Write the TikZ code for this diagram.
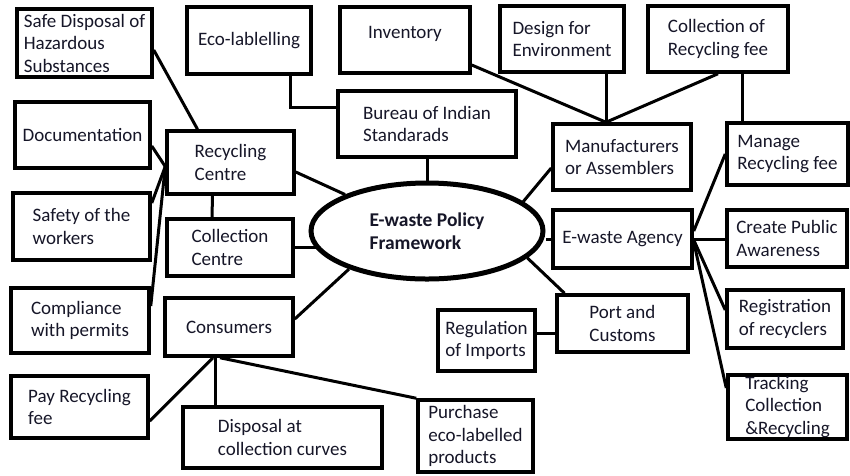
\documentclass[tikz,border=0pt]{standalone}
\usepackage{fontspec}
\setmainfont{Carlito}
\usetikzlibrary{shapes.geometric}
\definecolor{txt}{RGB}{22,22,40}
\begin{document}
\begin{tikzpicture}[x=1pt,y=-1pt,
  box/.style={draw, line width=3.5pt, inner sep=0pt, align=left,
    font=\fontsize{19}{22.5}\selectfont, text=txt},
  conn/.style={line width=3pt}]
\useasboundingbox[fill=white] (0,0) rectangle (850,475);
% boxes
\node[box, minimum width=135, minimum height=68] (safe) at (84.5,43) {Safe Disposal of\\Hazardous\\Substances};
\node[box, minimum width=124, minimum height=67] (eco) at (249,40.5) {Eco-lablelling};
\node[box, minimum width=130, minimum height=66] (inv) at (405,40) {\raisebox{6pt}[13pt][4pt]{Inventory}};
\node[box, minimum width=124, minimum height=66] (des) at (562,39) {Design for\\Environment};
\node[box, minimum width=140, minimum height=66] (cf) at (718,39) {Collection of\\Recycling fee};
\node[box, minimum width=178, minimum height=66] (bur) at (427,124) {Bureau of Indian\\Standarads};
\node[box, minimum width=135, minimum height=66] (doc) at (82.5,135) {Documentation};
\node[box, minimum width=127, minimum height=63] (rc) at (230.5,162.5) {Recycling\\Centre};
\node[box, minimum width=138, minimum height=66] (man) at (622,157) {Manufacturers\\or Assemblers};
\node[box, minimum width=121, minimum height=62] (mg) at (787.5,154) {Manage\\Recycling fee};
\node[box, minimum width=137, minimum height=67] (saf) at (81.5,226.5) {Safety of the\\workers};
\node[box, minimum width=126, minimum height=57] (cc) at (230,247.5) {Collection\\Centre};
\node[box, minimum width=139, minimum height=58] (ag) at (622.5,239) {E-waste Agency};
\node[box, minimum width=120, minimum height=57] (cp) at (787,238.5) {Create Public\\Awareness};
\node[box, minimum width=138, minimum height=65] (comp) at (80,320.5) {Compliance\\with permits};
\node[box, minimum width=128, minimum height=58] (con) at (229,327) {Consumers};
\node[box, minimum width=131, minimum height=57] (port) at (622.5,323.5) {Port and\\Customs};
\node[box, minimum width=97, minimum height=61] (reg) at (486.5,340.5) {Regulation\\of Imports};
\node[box, minimum width=116, minimum height=58] (rgr) at (785,319) {Registration\\of recyclers};
\node[box, minimum width=137, minimum height=62] (pay) at (79.5,407) {Pay Recycling\\fee};
\node[box, minimum width=199, minimum height=61] (dis) at (282.5,437.5) {Disposal at\\collection curves};
\node[box, minimum width=115, minimum height=72] (pur) at (475.5,436) {Purchase\\eco-labelled\\products};
\node[box, minimum width=119, minimum height=64] (trk) at (787.5,407) {Tracking\\Collection\\\&Recycling};
\node[ellipse, draw, line width=5pt, minimum width=232, minimum height=96, inner sep=0pt,
  align=left, text=txt, font=\fontsize{19.5}{22.5}\selectfont\bfseries] (ell) at (427,231)
  {E-waste Policy\\Framework};
% connectors
\coordinate (mtop) at ([xshift=-16pt]man.north);
\coordinate (rcw) at ([yshift=-4pt]rc.west);
\draw[conn] ([xshift=41pt]eco.south) |- ([yshift=17pt]bur.west);
\draw[conn] ([yshift=-7pt]safe.east) -- ([xshift=-33pt]rc.north);
\draw[conn] ([yshift=-11pt]doc.east) -- (rcw);
\draw[conn] ([yshift=23.5pt]saf.east) -- (rcw);
\draw[conn] ([yshift=14.5pt]comp.east) -- (rcw);
\draw[conn] ([xshift=-18pt]rc.south) -- ([xshift=-18pt]cc.north);
\draw[conn] ([yshift=-9.5pt]rc.east) -- (ell.156);
\draw[conn] (cc.east) -- (cc.east -| ell.190);
\draw[conn] ([yshift=8pt]con.east) -- (ell.206);
\draw[conn] (bur.south) -- (bur.south |- ell.north);
\draw[conn] (ell.17) -- ([yshift=-11pt]man.west);
\draw[conn] (ag.west) -- (ag.west -| ell.east);
\draw[conn] (ell.345) -- ([xshift=-58pt]port.north);
\draw[conn] ([yshift=7.5pt]reg.east) -- ([yshift=7.5pt]reg.east -| port.west);
\draw[conn] ([yshift=-25pt]inv.east) -- (mtop);
\draw[conn] ([xshift=44pt]des.south) -- (mtop);
\draw[conn] (cf.south) -- (mtop);
\draw[conn] ([xshift=24pt]cf.south) -- ([xshift=24pt]cf.south |- mg.north);
\draw[conn] ([yshift=8pt]ag.east) -- (mg.west);
\draw[conn] (ag.east) -- (ag.east -| cp.west);
\draw[conn] ([yshift=-1pt]ag.east) -- ([yshift=9pt]rgr.west);
\draw[conn] ([yshift=-3pt]ag.east) -- ([yshift=19pt]trk.west);
\draw[conn] ([xshift=-16pt]con.south) -- ([yshift=-14pt]pay.east);
\draw[conn] ([xshift=-14pt]con.south) -- ([xshift=-14pt]con.south |- dis.north);
\draw[conn] ([xshift=-9pt]con.south) -- (pur.north west);
\end{tikzpicture}
\end{document}
